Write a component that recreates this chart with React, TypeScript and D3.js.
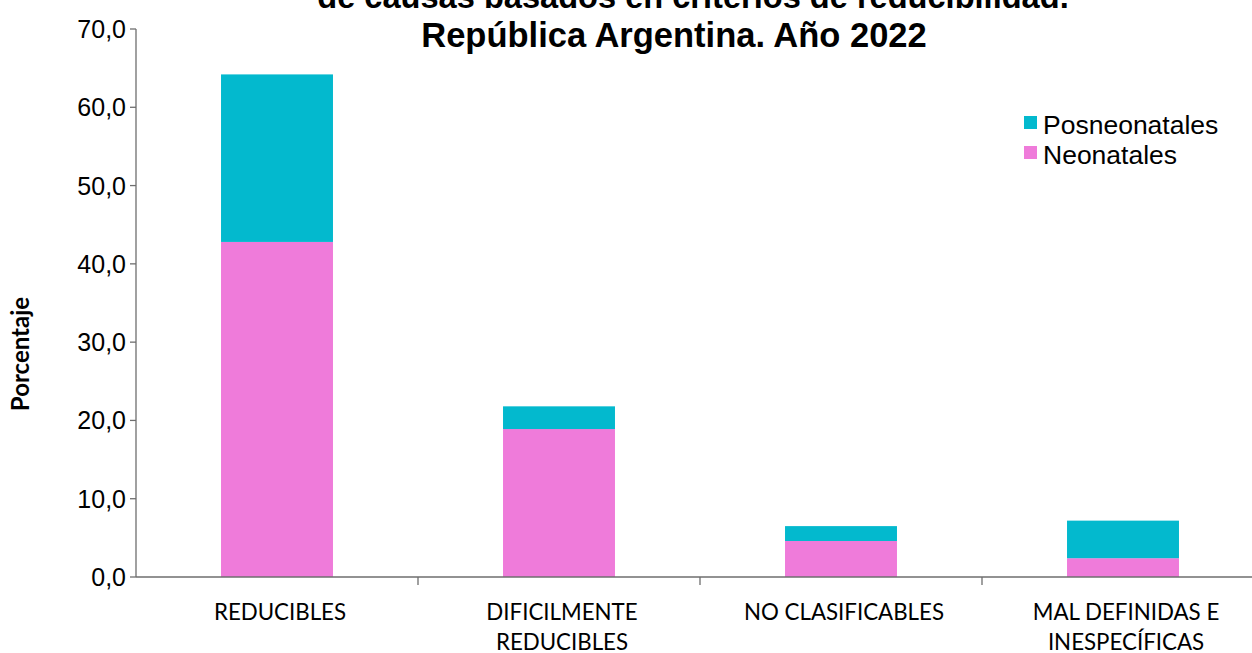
import React from "react";
import * as d3 from "d3";

const categories: string[][] = [
  ["REDUCIBLES"],
  ["DIFICILMENTE", "REDUCIBLES"],
  ["NO CLASIFICABLES"],
  ["MAL DEFINIDAS E", "INESPECÍFICAS"],
];
const neonatales: number[] = [42.8, 18.9, 4.6, 2.4];
const posneonatales: number[] = [21.4, 2.9, 1.9, 4.8];
const yTicks: number[] = [0, 10, 20, 30, 40, 50, 60, 70];
const seriesNames: string[] = ["Posneonatales", "Neonatales"];
const titleLines: string[] = [
  "de causas basados en criterios de reducibilidad.",
  "República Argentina. Año 2022",
];
const yLabel = "Porcentaje";

const CYAN = "#03B9CE";
const PINK = "#EF7BDA";

export default function App() {
  const W = 1252;
  const H = 653;
  const left = 136;
  const right = 1264;
  const y = d3.scaleLinear().domain([0, 70]).range([577, 29]);
  const keys = categories.map((c) => c.join(" "));
  const x = d3
    .scaleBand<string>()
    .domain(keys)
    .range([left, right])
    .paddingInner(0.603)
    .paddingOuter(0.3015);
  const step = x.step();
  const fmt = (v: number) => v.toFixed(1).replace(".", ",");
  const arial = "'Liberation Sans', Arial, sans-serif";
  const calibri = "Lato, 'Open Sans', sans-serif";

  return (
    <svg
      width={W}
      height={H}
      style={{ position: "absolute", left: 0, top: 0, background: "#fff" }}
    >
      {/* title */}
      <g fontFamily={arial} fontWeight="bold" textAnchor="middle" fill="#000">
        <text x={693} y={8} fontSize={32.6}>
          {titleLines[0]}
        </text>
        <text x={674} y={47} fontSize={34.5}>
          {titleLines[1]}
        </text>
      </g>

      {/* bars */}
      {keys.map((k, i) => {
        const x0 = x(k)!;
        const bw = x.bandwidth();
        const n = neonatales[i];
        const p = posneonatales[i];
        return (
          <g key={k}>
            <rect x={x0} y={y(n)} width={bw} height={y(0) - y(n)} fill={PINK} />
            <rect x={x0} y={y(n + p)} width={bw} height={y(n) - y(n + p)} fill={CYAN} />
          </g>
        );
      })}

      {/* y axis */}
      <line x1={left} x2={left} y1={y(70)} y2={y(0)} stroke="#6e6e6e" strokeWidth={1.3} />
      {yTicks.map((t) => (
        <g key={t}>
          <line x1={left - 6} x2={left} y1={y(t)} y2={y(t)} stroke="#6e6e6e" strokeWidth={1.3} />
          <text
            x={126}
            y={y(t)}
            dy="0.36em"
            textAnchor="end"
            fontFamily={arial}
            fontSize={25}
            fill="#000"
          >
            {fmt(t)}
          </text>
        </g>
      ))}

      {/* x axis */}
      <line x1={left} x2={right} y1={y(0)} y2={y(0)} stroke="#6e6e6e" strokeWidth={1.3} />
      {keys.slice(1).map((k) => {
        const bx = x(k)! - (step - x.bandwidth()) / 2;
        return (
          <line key={k} x1={bx} x2={bx} y1={y(0)} y2={y(0) + 8} stroke="#6e6e6e" strokeWidth={1.3} />
        );
      })}
      {keys.map((k, i) => {
        const cx = x(k)! + x.bandwidth() / 2 + 3;
        return (
          <text key={k} textAnchor="middle" fontFamily={calibri} fontSize={22.3} fill="#000">
            {categories[i].map((line, j) => (
              <tspan key={j} x={cx} y={620 + j * 29.5}>
                {line}
              </tspan>
            ))}
          </text>
        );
      })}

      {/* y label */}
      <text
        transform={`translate(29, 354) rotate(-90)`}
        textAnchor="middle"
        fontFamily={calibri}
        fontWeight="bold"
        fontSize={24}
        fill="#000"
      >
        {yLabel}
      </text>

      {/* legend */}
      {seriesNames.map((s, i) => (
        <g key={s} transform={`translate(1024, ${116 + i * 30})`}>
          <rect x={0} y={0} width={13} height={13} fill={i === 0 ? CYAN : PINK} />
          <text x={19} y={18} fontFamily={arial} fontSize={26.5} fill="#000">
            {s}
          </text>
        </g>
      ))}
    </svg>
  );
}
